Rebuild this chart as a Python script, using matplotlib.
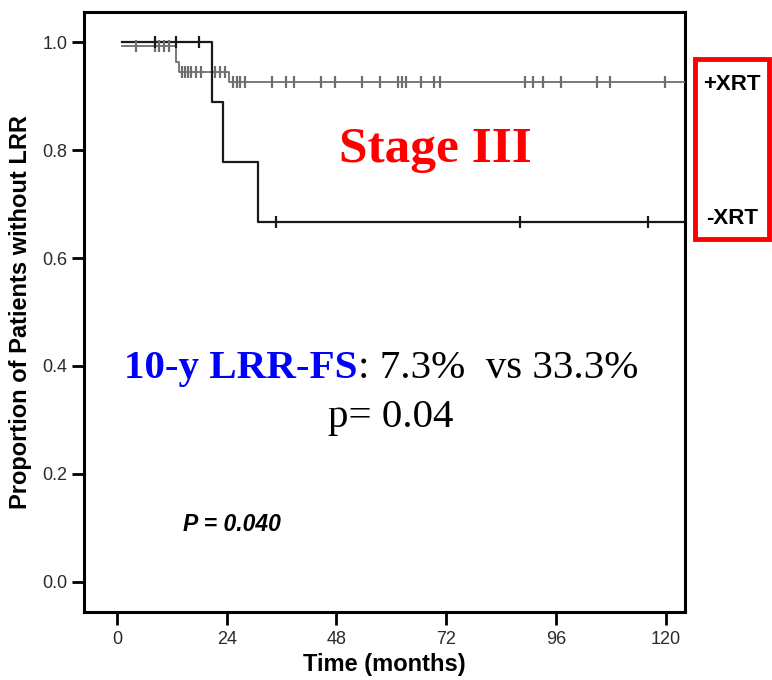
import numpy as np
import matplotlib
matplotlib.use("Agg")
import matplotlib.pyplot as plt
from matplotlib.patches import Rectangle

# Kaplan-Meier steps (time in months, proportion)
xrt_times = [1.0, 12.9, 13.6, 24.6, 126.0]
xrt_surv = [0.993, 0.963, 0.944, 0.927, 0.927]
xrt_censored = [4.2, 8.3, 9.2, 10.3, 11.4,
                14.3, 14.9, 15.5, 16.2, 17.2, 18.3, 21.4, 22.5, 23.6,
                25.3, 26.2, 27.0, 28.0, 33.8, 36.9, 38.7, 44.7, 47.7,
                53.5, 57.5, 61.4, 62.4, 63.2, 66.4, 69.3, 70.6,
                89.2, 91.0, 93.1, 97.0, 105.0, 107.8, 119.8]

noxrt_times = [1.0, 20.8, 23.1, 30.9, 126.0]
noxrt_surv = [1.0, 0.889, 0.778, 0.667, 0.667]
noxrt_censored = [8.3, 12.9, 18.0, 34.8, 88.1, 116.1]

x_ticks = [0, 24, 48, 72, 96, 120]
y_ticks = [0.0, 0.2, 0.4, 0.6, 0.8, 1.0]

SANS = "Liberation Sans"
SERIF = "Liberation Serif"


def surv_at(times, surv, t):
    i = np.searchsorted(times, t, side="right") - 1
    return np.asarray(surv)[i]


def km_curve(ax, times, surv, cens, color, lw):
    ax.step(times, surv, where="post", color=color, lw=lw, zorder=3)
    cy = surv_at(np.asarray(times), surv, np.asarray(cens))
    ax.plot(cens, cy, ls="none", marker="|", ms=8, mew=1.6, color=color, zorder=4)


fig = plt.figure(figsize=(7.72, 6.80), dpi=100)
ax = fig.add_axes([84 / 772, 1 - 612 / 680, (685 - 84) / 772, (612 - 12) / 680])

km_curve(ax, xrt_times, xrt_surv, xrt_censored, "#6e6e6e", 1.3)
km_curve(ax, noxrt_times, noxrt_surv, noxrt_censored, "#1a1a1a", 1.6)

ax.set_xlim(-7.2, 124.2)
ax.set_ylim(-0.056, 1.056)
ax.set_xticks(x_ticks)
ax.set_yticks(y_ticks)
ax.set_yticklabels([f"{v:.1f}" for v in y_ticks])

for s in ax.spines.values():
    s.set_linewidth(2.2)

ax.tick_params(axis="both", direction="out", length=9, width=2, color="black",
               labelsize=13, labelcolor="#2a2a2a")
ax.tick_params(axis="y", pad=3)
ax.tick_params(axis="x", pad=5)
for lab in ax.get_xticklabels() + ax.get_yticklabels():
    lab.set_fontfamily(SANS)

ax.set_ylabel("Proportion of Patients without LRR", fontfamily=SANS, fontsize=17,
              fontweight="bold")
ax.yaxis.set_label_coords(-0.087, 0.5)
ax.set_xlabel("Time (months)", fontfamily=SANS, fontsize=17, fontweight="bold", labelpad=3)

ax.text(25.1, 0.106, "P = 0.040", fontfamily=SANS, fontsize=16.5, fontweight="bold",
        fontstyle="italic", ha="center", va="center")

# annotations drawn on top of the plot
fig.text(435 / 772, 1 - 150 / 680, "Stage III", fontfamily=SERIF, fontsize=37,
         fontweight="bold", color="red", ha="center", va="center")

t1 = fig.text(124 / 772, 1 - 378 / 680, "10-y LRR-FS", fontfamily=SERIF, fontsize=29.5,
              fontweight="bold", color="blue", ha="left", va="baseline")
ax.annotate(": 7.3%  vs 33.3%", xy=(1, 0), xycoords=t1, ha="left", va="bottom",
            fontfamily=SERIF, fontsize=29.5, color="black")
fig.text(391 / 772, 1 - 427 / 680, "p= 0.04", fontfamily=SERIF, fontsize=29.5,
         color="black", ha="center", va="baseline")

fig.patches.append(Rectangle((695 / 772, 1 - 239 / 680), 74 / 772, 180 / 680,
                             transform=fig.transFigure, fill=False, ec="red", lw=3.5))
fig.text(732 / 772, 1 - 84 / 680, "+XRT", fontfamily=SANS, fontsize=16,
         fontweight="bold", ha="center", va="center")
fig.text(732 / 772, 1 - 219 / 680, "-XRT", fontfamily=SANS, fontsize=16,
         fontweight="bold", ha="center", va="center")

fig.savefig("out.png", dpi=100)
